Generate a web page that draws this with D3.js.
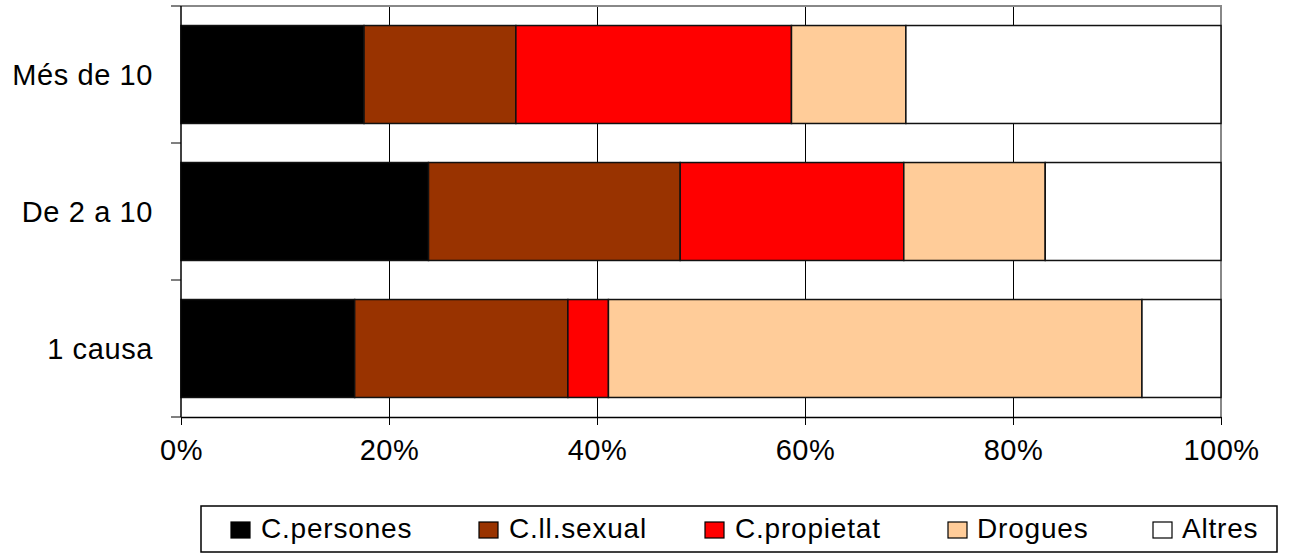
<!DOCTYPE html>
<html>
<head>
<meta charset="utf-8">
<script src="https://cdn.jsdelivr.net/npm/d3@7"></script>
<style>
  html, body { margin: 0; padding: 0; background: #fff; }
  svg { display: block; font-family: "Liberation Sans", Arial, sans-serif; }
</style>
</head>
<body>
<svg id="chart" width="1291" height="553"></svg>
<script>
// ---- data ----
const categories = ["Més de 10", "De 2 a 10", "1 causa"];
const seriesNames = ["C.persones", "C.ll.sexual", "C.propietat", "Drogues", "Altres"];
const persones  = [17.6, 23.8, 16.7];
const llSexual  = [14.6, 24.2, 20.5];
const propietat = [26.5, 21.5, 3.9];
const drogues   = [11.0, 13.6, 51.3];
const altres    = [30.3, 16.9, 7.6];
const xTickValues = [0, 0.2, 0.4, 0.6, 0.8, 1.0];
const xTickLabels = ["0%", "20%", "40%", "60%", "80%", "100%"];
const colors = ["#000000", "#993300", "#FF0000", "#FFCC99", "#FFFFFF"];

// ---- layout ----
const plot = { left: 181, right: 1221, top: 6, bottom: 417 };
const svg = d3.select("#chart");

const seriesValues = [persones, llSexual, propietat, drogues, altres];
const rows = categories.map((c, i) => {
  const o = { cat: c };
  const total = d3.sum(seriesValues, s => s[i]);
  seriesNames.forEach((n, k) => o[n] = seriesValues[k][i] / total);
  return o;
});
const stacked = d3.stack().keys(seriesNames)(rows);

const x = d3.scaleLinear().domain([0, 1]).range([plot.left, plot.right]);
const y = d3.scaleBand().domain(categories).range([plot.top, plot.bottom]).paddingInner(0.285).paddingOuter(0.1425);

// gridlines
svg.append("g").selectAll("line").data(xTickValues.slice(1, -1)).join("line")
  .attr("x1", d => x(d)).attr("x2", d => x(d))
  .attr("y1", plot.top).attr("y2", plot.bottom)
  .attr("stroke", "#000").attr("stroke-width", 1).attr("shape-rendering", "crispEdges");

// plot border top/right (gray)
svg.append("path")
  .attr("d", `M${plot.left},${plot.top}H${plot.right}V${plot.bottom}`)
  .attr("fill", "none").attr("stroke", "#888").attr("stroke-width", 2);

// bars
svg.append("g").selectAll("g").data(stacked).join("g")
  .attr("fill", (d, i) => colors[i])
  .selectAll("rect").data(d => d).join("rect")
  .attr("x", d => x(d[0]))
  .attr("width", d => x(d[1]) - x(d[0]))
  .attr("y", d => y(d.data.cat))
  .attr("height", y.bandwidth())
  .attr("stroke", "#111").attr("stroke-width", 1.5);

// x axis
const xAxis = d3.axisBottom(x).tickValues(xTickValues)
  .tickFormat((d, i) => xTickLabels[i]).tickSizeInner(8).tickSizeOuter(0).tickPadding(14);
const gx = svg.append("g").attr("transform", `translate(0,${plot.bottom})`).call(xAxis);
gx.select(".domain").attr("stroke", "#000").attr("stroke-width", 1.5);
gx.selectAll(".tick line").attr("stroke", "#000").attr("stroke-width", 1);
gx.selectAll(".tick text").attr("font-size", 29).attr("fill", "#000")
  .attr("font-family", "Liberation Sans, Arial, sans-serif").attr("letter-spacing", 0.5);

// y axis: ticks at band boundaries
const boundaries = [plot.top].concat(categories.map(c => y(c) + y.bandwidth() + y.step() * y.paddingInner() / 2));
boundaries[boundaries.length - 1] = plot.bottom;
const gy = svg.append("g");
gy.append("line").attr("x1", plot.left).attr("x2", plot.left)
  .attr("y1", plot.top).attr("y2", plot.bottom).attr("stroke", "#000").attr("stroke-width", 1.5);
gy.selectAll("line.t").data(boundaries).join("line").attr("class", "t")
  .attr("x1", plot.left - 10).attr("x2", plot.left).attr("y1", d => d).attr("y2", d => d)
  .attr("stroke", "#000").attr("stroke-width", 1);
gy.selectAll("text").data(categories).join("text")
  .attr("x", plot.left - 28).attr("y", d => y(d) + y.bandwidth() / 2)
  .attr("dy", "0.36em").attr("text-anchor", "end")
  .attr("font-size", 29).attr("letter-spacing", 0.6).attr("fill", "#000").text(d => d);

// legend
const legendBox = { x: 201, y: 506, w: 1076, h: 46 };
const legendSquareX = [231, 479, 705, 948, 1153];
const legendTextX = [261, 509, 735, 977, 1182];
const lg = svg.append("g");
lg.append("rect").attr("x", legendBox.x).attr("y", legendBox.y).attr("width", legendBox.w).attr("height", legendBox.h)
  .attr("fill", "#fff").attr("stroke", "#000").attr("stroke-width", 1.5);
const items = lg.selectAll("g.item").data(seriesNames).join("g").attr("class", "item");
items.append("rect").attr("x", (d, i) => legendSquareX[i]).attr("y", 522)
  .attr("width", 19).attr("height", 16).attr("fill", (d, i) => colors[i])
  .attr("stroke", "#000").attr("stroke-width", 1.2);
items.append("text").attr("x", (d, i) => legendTextX[i]).attr("y", 538)
  .attr("font-size", 28).attr("letter-spacing", 0.8).attr("fill", "#000").text(d => d);
</script>
</body>
</html>
